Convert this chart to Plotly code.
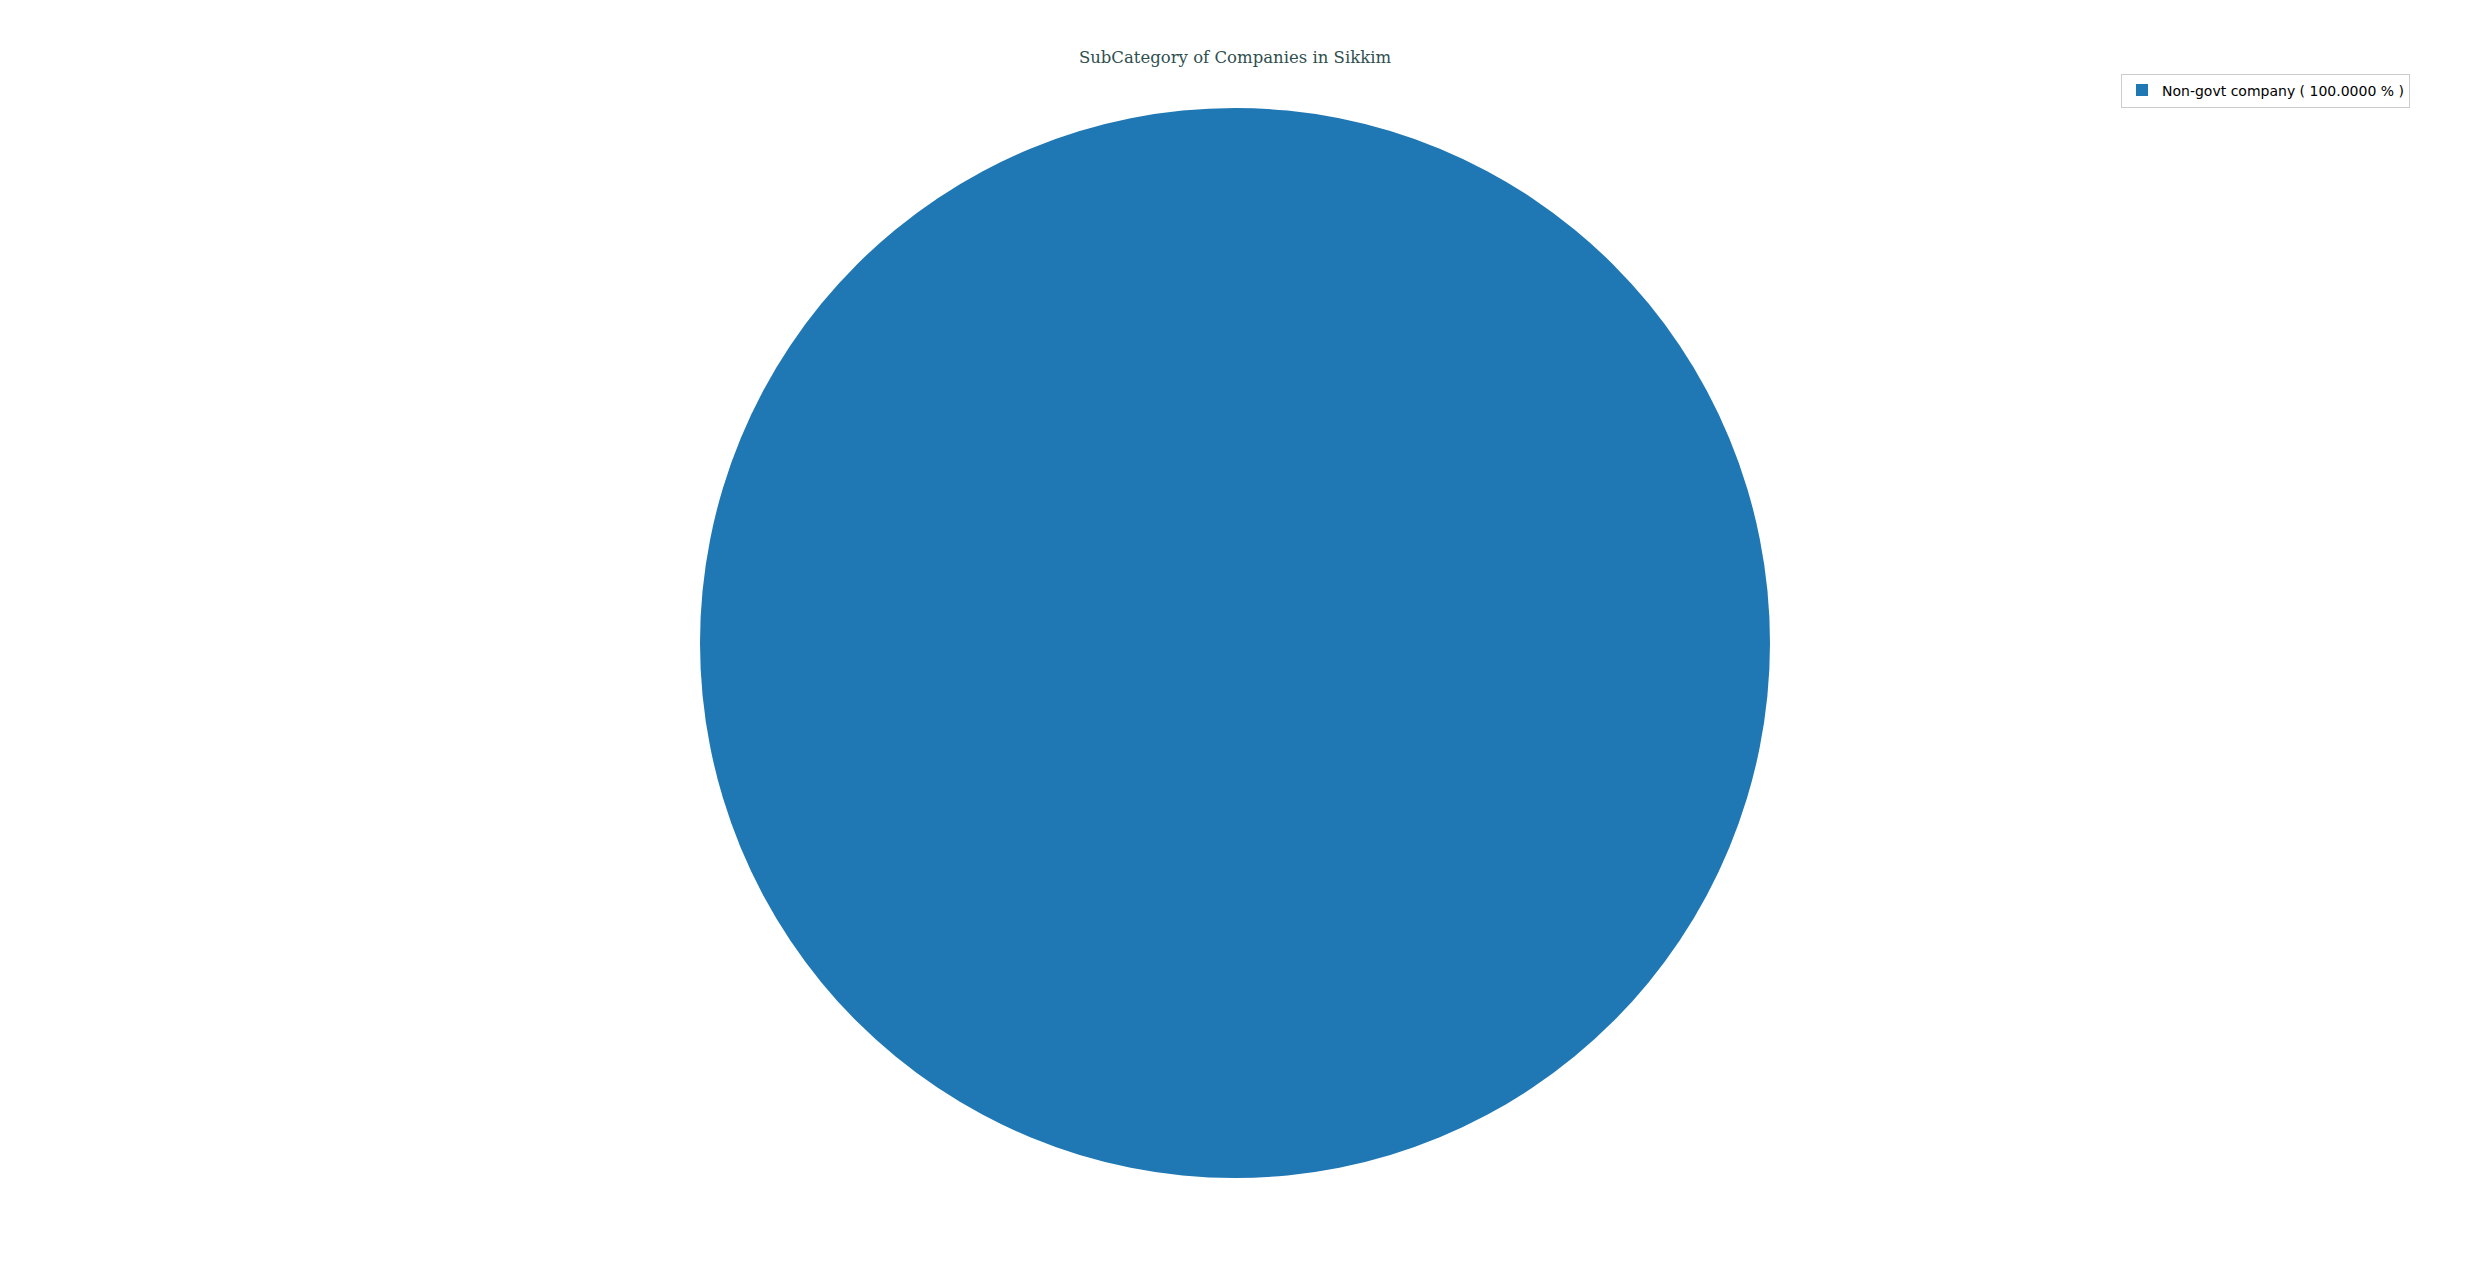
import plotly.graph_objects as go

categories = ["Non-govt company"]
values = [100]
colors = ["#1f77b4"]

total = sum(values)
legend_labels = [f"{c} ( {v / total * 100:.4f} % )" for c, v in zip(categories, values)]

W, H = 2470, 1270
off = 8  # page body margin
cx, cy, r = 1235 - off, 643 - off, 535

fig = go.Figure(go.Pie(
    labels=legend_labels,
    values=values,
    marker=dict(colors=colors, line=dict(width=0)),
    textinfo="none",
    hoverinfo="label+value",
    sort=False,
    direction="counterclockwise",
    domain=dict(x=[(cx - r) / W, (cx + r) / W], y=[1 - (cy + r) / H, 1 - (cy - r) / H]),
))

fig.update_layout(
    width=W, height=H,
    margin=dict(l=0, r=0, t=0, b=0),
    paper_bgcolor="white",
    plot_bgcolor="white",
    title=dict(
        text="SubCategory of Companies in Sikkim",
        x=(1235 - off) / W, xanchor="center", y=1 - (57 - off) / H, yanchor="middle",
        font=dict(family="DejaVu Serif", size=16.5, color="#2f4f4f"),
    ),
    showlegend=True,
    legend=dict(
        x=(2121 - off) / W, y=1 - (90.5 - off) / H, xanchor="left", yanchor="middle",
        bgcolor="white", bordercolor="#cccccc", borderwidth=1,
        font=dict(family="DejaVu Sans", size=14, color="black"),
    ),
)

fig.write_html("out.html")
